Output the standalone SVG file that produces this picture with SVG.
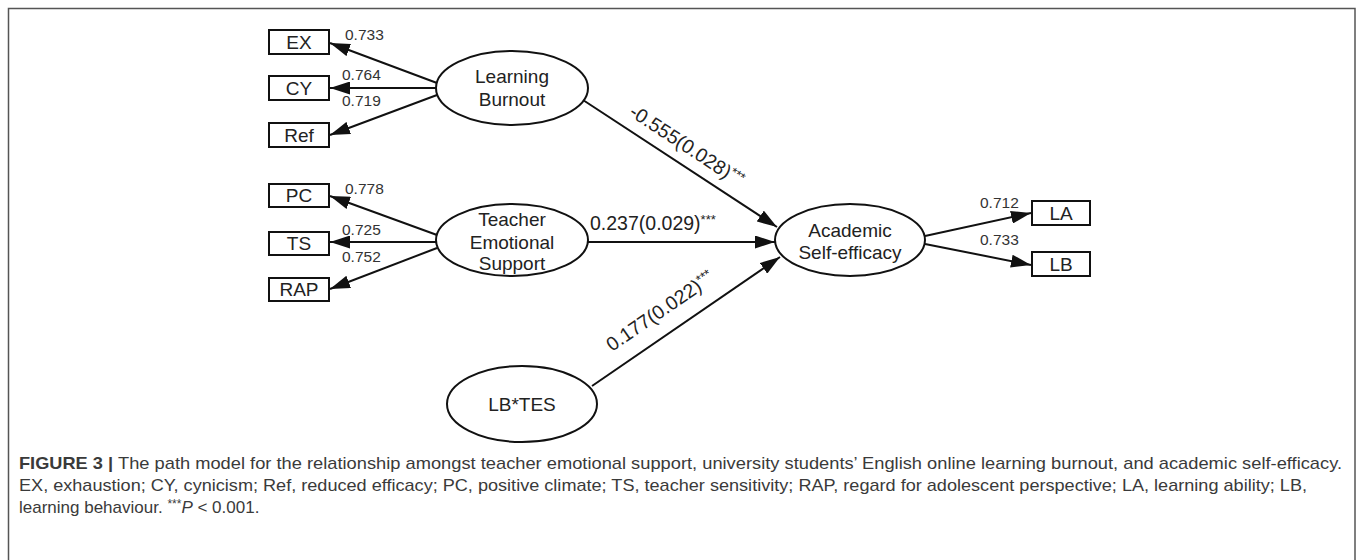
<svg xmlns="http://www.w3.org/2000/svg" width="1357" height="560" viewBox="0 0 1357 560">
  <style>
    .box { fill: #ffffff; stroke: #111111; stroke-width: 2; }
    .oval { fill: #ffffff; stroke: #111111; stroke-width: 2; }
    .lbl { font-family: "Liberation Sans", Arial, sans-serif; font-size: 19px; fill: #222222; text-anchor: middle; }
    .load { font-family: "Liberation Sans", Arial, sans-serif; font-size: 15.5px; fill: #333333; }
    .coef { font-family: "Liberation Sans", Arial, sans-serif; font-size: 19.5px; fill: #222222; }
    .sup { font-size: 13px; }
    .edge { stroke: #111111; stroke-width: 2; fill: none; marker-end: url(#head); }
    .cap { font-family: "Liberation Sans", Arial, sans-serif; font-size: 17px; fill: #3a3a3a; }
  </style>
  <defs>
    <marker id="head" viewBox="0 0 20 13" refX="20" refY="6.5" markerWidth="20" markerHeight="13" markerUnits="userSpaceOnUse" orient="auto">
      <path d="M0,0 L20,6.5 L0,13 Z" fill="#111111"/>
    </marker>
  </defs>

  <rect width="1357" height="560" fill="#ffffff"/>
  <!-- figure frame (open at the bottom) -->
  <path d="M8.5,560 V8.5 H1355 V560" fill="none" stroke="#555555" stroke-width="1.5"/>

  <!-- connectors -->
  <g id="connectors">
    <line class="edge" x1="437" y1="83" x2="330" y2="43"/>
    <line class="edge" x1="436" y1="88" x2="330" y2="88"/>
    <line class="edge" x1="437" y1="95" x2="330" y2="135"/>
    <line class="edge" x1="437" y1="235" x2="330" y2="196"/>
    <line class="edge" x1="436" y1="242" x2="330" y2="242"/>
    <line class="edge" x1="437" y1="248" x2="330" y2="289"/>
    <line class="edge" x1="925" y1="236" x2="1031" y2="213"/>
    <line class="edge" x1="925" y1="244" x2="1031" y2="265"/>
    <line class="edge" x1="583" y1="100" x2="777" y2="227"/>
    <line class="edge" x1="588" y1="242" x2="775" y2="242"/>
    <line class="edge" x1="592" y1="386" x2="780" y2="257"/>

    <text class="load" x="345" y="40">0.733</text>
    <text class="load" x="342" y="80">0.764</text>
    <text class="load" x="342" y="106">0.719</text>
    <text class="load" x="345" y="194">0.778</text>
    <text class="load" x="342" y="235">0.725</text>
    <text class="load" x="342" y="262">0.752</text>
    <text class="load" x="980" y="208">0.712</text>
    <text class="load" x="980" y="245">0.733</text>

    <text class="coef" x="628" y="115" transform="rotate(33.3 628 115)">-0.555(0.028)<tspan class="sup" dy="-6">***</tspan></text>
    <text class="coef" x="590" y="230">0.237(0.029)<tspan class="sup" dy="-6">***</tspan></text>
    <text class="coef" x="612" y="352" transform="rotate(-34.5 612 352)">0.177(0.022)<tspan class="sup" dy="-6">***</tspan></text>
  </g>

  <!-- indicator boxes -->
  <g id="EX"><rect class="box" x="269" y="30" width="60" height="24"/><text class="lbl" x="299" y="49">EX</text></g>
  <g id="CY"><rect class="box" x="269" y="76" width="60" height="24"/><text class="lbl" x="299" y="95">CY</text></g>
  <g id="Ref"><rect class="box" x="269" y="123" width="60" height="24"/><text class="lbl" x="299" y="142">Ref</text></g>
  <g id="PC"><rect class="box" x="269" y="184" width="60" height="23"/><text class="lbl" x="299" y="202">PC</text></g>
  <g id="TS"><rect class="box" x="269" y="232" width="60" height="23"/><text class="lbl" x="299" y="250">TS</text></g>
  <g id="RAP"><rect class="box" x="269" y="278" width="60" height="23"/><text class="lbl" x="299" y="296">RAP</text></g>
  <g id="LA"><rect class="box" x="1032" y="201" width="58" height="24"/><text class="lbl" x="1061" y="220">LA</text></g>
  <g id="LB"><rect class="box" x="1032" y="252" width="58" height="24"/><text class="lbl" x="1061" y="271">LB</text></g>

  <!-- latent constructs -->
  <g id="learning-burnout">
    <ellipse class="oval" cx="512" cy="88" rx="76" ry="37"/>
    <text class="lbl" x="512" y="83">Learning</text>
    <text class="lbl" x="512" y="106">Burnout</text>
  </g>
  <g id="teacher-emotional-support">
    <ellipse class="oval" cx="512" cy="240" rx="76" ry="36"/>
    <text class="lbl" x="512" y="226">Teacher</text>
    <text class="lbl" x="512" y="249">Emotional</text>
    <text class="lbl" x="512" y="270">Support</text>
  </g>
  <g id="academic-self-efficacy">
    <ellipse class="oval" cx="850" cy="240" rx="75" ry="36"/>
    <text class="lbl" x="850" y="237">Academic</text>
    <text class="lbl" x="850" y="259">Self-efficacy</text>
  </g>
  <g id="lb-tes">
    <ellipse class="oval" cx="522" cy="404" rx="75" ry="38"/>
    <text class="lbl" x="522" y="411">LB*TES</text>
  </g>

  <!-- caption -->
  <g id="caption">
    <text class="cap" x="19" y="469" font-weight="bold" textLength="94" lengthAdjust="spacingAndGlyphs">FIGURE 3 |</text>
    <text class="cap" x="118" y="469" textLength="1224" lengthAdjust="spacingAndGlyphs">The path model for the relationship amongst teacher emotional support, university students’ English online learning burnout, and academic self-efficacy.</text>
    <text class="cap" x="19" y="491" textLength="1288" lengthAdjust="spacingAndGlyphs">EX, exhaustion; CY, cynicism; Ref, reduced efficacy; PC, positive climate; TS, teacher sensitivity; RAP, regard for adolescent perspective; LA, learning ability; LB,</text>
    <text class="cap" x="19" y="513">learning behaviour. <tspan font-size="12" dy="-5">***</tspan><tspan font-style="italic" dy="5">P</tspan> &lt; 0.001.</text>
  </g>
</svg>
